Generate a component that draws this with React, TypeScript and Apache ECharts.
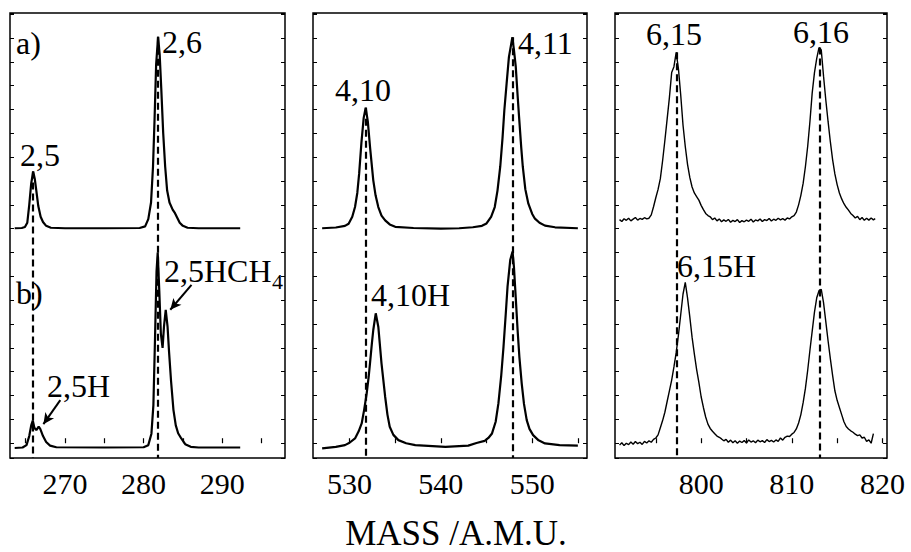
import React, { useEffect, useRef } from "react";
import * as echarts from "echarts";

const FONT = "Liberation Serif, serif";

// ---- Panel 1 (2,5 / 2,6 region) ---- [mass, relative intensity]
const p1a: [number, number][] = [
  [263.6, 0.02], [264.5, 0.03], [264.9, 0.07], [265.2, 0.25], [265.45, 1.0], [265.7, 1.9], [265.95, 2.4],
  [266.15, 2.1], [266.35, 1.6], [266.6, 0.95], [266.9, 0.5], [267.2, 0.28], [267.6, 0.12], [268.2, 0.04],
  [270, 0.02], [275, 0.02], [279.5, 0.03], [280.2, 0.1], [280.6, 0.4], [280.95, 1.1], [281.2, 2.6],
  [281.4, 4.6], [281.6, 6.9], [281.85, 8.05], [282.05, 7.3], [282.25, 5.9], [282.5, 4.0], [282.75, 2.6],
  [283.0, 1.6], [283.3, 1.1], [283.7, 0.8], [284.0, 0.65], [284.3, 0.45], [284.6, 0.25], [285.0, 0.12],
  [285.6, 0.04], [287, 0.02], [292.3, 0.02],
];
const p1b: [number, number][] = [
  [263.6, 0.0], [264.6, 0.02], [265.1, 0.12], [265.45, 0.5], [265.7, 0.95], [265.9, 1.15], [266.1, 0.85],
  [266.35, 0.75], [266.65, 0.9], [266.85, 0.8], [267.2, 0.5], [267.6, 0.25], [268.1, 0.1], [268.9, 0.03],
  [275, 0.02], [280.0, 0.03], [280.6, 0.12], [281.0, 0.6], [281.25, 1.8], [281.45, 4.5], [281.65, 7.4],
  [281.8, 8.2], [282.0, 6.6], [282.2, 4.8], [282.42, 4.2], [282.6, 5.1], [282.82, 5.8], [283.05, 5.1],
  [283.25, 4.0], [283.5, 2.8], [283.8, 1.6], [284.1, 0.95], [284.4, 0.62], [284.8, 0.4], [285.3, 0.16],
  [286, 0.05], [287, 0.02], [292.3, 0.02],
];

// ---- Panel 2 (4,10 / 4,11 region) ----
const p2a: [number, number][] = [
  [527.0, 0.02], [528.5, 0.05], [529.5, 0.12], [529.9, 0.21], [530.3, 0.5], [530.6, 0.91], [530.85, 1.5],
  [531.05, 2.3], [531.3, 3.6], [531.55, 4.65], [531.77, 5.08], [532.0, 4.5], [532.25, 3.4], [532.6, 2.03],
  [532.85, 1.4], [533.15, 0.91], [533.5, 0.55], [533.9, 0.35], [534.4, 0.18], [535, 0.08], [537, 0.03],
  [540, 0.0], [542, 0.02], [543.5, 0.06], [544.5, 0.12], [545.0, 0.22], [545.5, 0.5], [545.9, 0.91],
  [546.2, 1.6], [546.5, 2.6], [546.75, 3.8], [546.95, 4.97], [547.2, 6.1], [547.45, 7.2], [547.83, 8.03],
  [548.0, 7.5], [548.2, 6.8], [548.4, 5.6], [548.56, 4.7], [548.8, 3.4], [548.97, 2.6], [549.25, 1.65],
  [549.58, 1.05], [550.0, 0.62], [550.3, 0.42], [550.8, 0.25], [551.4, 0.13], [552.5, 0.06], [555.0, 0.02],
];
const p2b: [number, number][] = [
  [527.0, -0.02], [528.5, 0.05], [529.5, 0.12], [530.0, 0.22], [530.6, 0.4], [531.0, 0.7], [531.33, 1.03],
  [531.6, 1.6], [531.88, 2.29], [532.1, 3.0], [532.24, 3.55], [532.45, 4.4], [532.6, 4.95], [532.87, 5.65],
  [533.15, 5.09], [533.5, 3.55], [533.9, 2.15], [534.15, 1.4], [534.4, 0.89], [534.8, 0.55], [535.35, 0.33],
  [536.2, 0.2], [537.2, 0.12], [540.5, 0.05], [543.0, 0.1], [543.9, 0.21], [544.8, 0.3], [545.2, 0.42],
  [545.6, 0.61], [546.0, 1.1], [546.3, 1.87], [546.6, 3.0], [546.86, 4.25], [547.1, 5.6], [547.3, 6.77],
  [547.6, 7.9], [547.85, 8.24], [548.0, 7.6], [548.2, 6.3], [548.4, 4.95], [548.6, 3.8], [548.85, 2.71],
  [549.1, 1.85], [549.4, 1.17], [549.7, 0.8], [550.1, 0.54], [550.7, 0.32], [551.4, 0.19], [553, 0.12],
  [555, 0.1],
];

// ---- Panel 3 (6,15 / 6,16 region, noisy) ----
const p3a: [number, number][] = [
  [791.0, 0.38], [791.25, 0.30], [791.5, 0.42], [791.75, 0.35], [792.0, 0.44], [792.25, 0.33], [792.5, 0.40],
  [792.75, 0.47], [793.0, 0.36], [793.25, 0.43], [793.5, 0.39], [793.75, 0.46], [794.0, 0.41], [794.25, 0.44],
  [794.5, 0.58], [794.75, 0.92], [795.0, 1.3], [795.25, 1.65], [795.5, 2.1], [795.75, 2.85], [796.0, 3.7],
  [796.25, 4.6], [796.5, 5.5], [796.75, 6.55], [797.0, 6.8], [797.25, 7.4], [797.5, 6.7], [797.75, 5.6],
  [798.0, 4.35], [798.25, 3.45], [798.5, 2.7], [798.75, 2.15], [799.0, 1.75], [799.25, 1.5], [799.5, 1.35],
  [799.75, 1.2], [800.0, 0.98], [800.25, 0.8], [800.5, 0.64], [800.75, 0.55], [801.0, 0.5], [801.25, 0.38],
  [801.5, 0.45], [801.75, 0.33], [802.0, 0.41], [802.25, 0.29], [802.5, 0.37], [802.75, 0.31], [803.0, 0.39],
  [803.25, 0.27], [803.5, 0.35], [803.75, 0.30], [804.0, 0.38], [804.25, 0.26], [804.5, 0.34], [804.75, 0.29],
  [805.0, 0.36], [805.25, 0.31], [805.5, 0.40], [805.75, 0.28], [806.0, 0.37], [806.25, 0.33], [806.5, 0.41],
  [806.75, 0.30], [807.0, 0.38], [807.25, 0.34], [807.5, 0.43], [807.75, 0.32], [808.0, 0.40], [808.25, 0.35],
  [808.5, 0.44], [808.75, 0.37], [809.0, 0.42], [809.25, 0.36], [809.5, 0.45], [809.75, 0.41], [810.0, 0.50],
  [810.25, 0.55], [810.5, 0.7], [810.75, 1.0], [811.0, 1.4], [811.25, 1.9], [811.5, 2.6], [811.75, 3.45],
  [812.0, 4.5], [812.25, 5.7], [812.5, 6.55], [812.75, 7.15], [813.0, 7.6], [813.25, 7.5], [813.5, 6.4],
  [813.75, 5.4], [814.0, 4.5], [814.25, 3.65], [814.5, 2.9], [814.75, 2.3], [815.0, 1.85], [815.25, 1.5],
  [815.5, 1.25], [815.75, 1.05], [816.0, 0.9], [816.25, 0.78], [816.5, 0.64], [816.75, 0.55], [817.0, 0.45],
  [817.25, 0.52], [817.5, 0.38], [817.75, 0.47], [818.0, 0.35], [818.25, 0.44], [818.5, 0.36], [818.75, 0.45],
  [819.0, 0.37], [819.2, 0.42],
];
const p3b: [number, number][] = [
  [791.0, 0.12], [791.25, 0.22], [791.5, 0.10], [791.75, 0.20], [792.0, 0.14], [792.25, 0.25], [792.5, 0.16],
  [792.75, 0.27], [793.0, 0.18], [793.25, 0.24], [793.5, 0.15], [793.75, 0.28], [794.0, 0.21], [794.25, 0.30],
  [794.5, 0.24], [794.75, 0.36], [795.0, 0.42], [795.25, 0.55], [795.5, 0.85], [795.75, 1.15], [796.0, 1.5],
  [796.25, 1.95], [796.5, 2.4], [796.75, 2.85], [797.0, 3.4], [797.25, 4.0], [797.5, 4.75], [797.75, 5.6],
  [798.0, 6.45], [798.25, 6.95], [798.5, 6.3], [798.75, 5.5], [799.0, 4.65], [799.25, 3.95], [799.5, 3.3],
  [799.75, 2.75], [800.0, 2.15], [800.25, 1.7], [800.5, 1.3], [800.75, 1.0], [801.0, 0.82], [801.25, 0.7],
  [801.5, 0.6], [801.75, 0.5], [802.0, 0.45], [802.25, 0.38], [802.5, 0.30], [802.75, 0.36], [803.0, 0.24],
  [803.25, 0.33], [803.5, 0.22], [803.75, 0.30], [804.0, 0.20], [804.25, 0.29], [804.5, 0.23], [804.75, 0.31],
  [805.0, 0.21], [805.25, 0.34], [805.5, 0.25], [805.75, 0.30], [806.0, 0.22], [806.25, 0.33], [806.5, 0.26],
  [806.75, 0.31], [807.0, 0.23], [807.25, 0.35], [807.5, 0.27], [807.75, 0.32], [808.0, 0.25], [808.25, 0.34],
  [808.5, 0.28], [808.75, 0.42], [809.0, 0.33], [809.25, 0.45], [809.5, 0.50], [809.75, 0.48], [810.0, 0.58],
  [810.25, 0.65], [810.5, 0.8], [810.75, 1.05], [811.0, 1.4], [811.25, 1.9], [811.5, 2.5], [811.75, 3.25],
  [812.0, 4.1], [812.25, 4.9], [812.5, 5.7], [812.75, 6.3], [813.0, 6.6], [813.25, 6.65], [813.5, 6.1],
  [813.75, 5.3], [814.0, 4.5], [814.25, 3.75], [814.5, 3.05], [814.75, 2.4], [815.0, 2.0], [815.25, 1.7],
  [815.5, 1.4], [815.75, 1.1], [816.0, 0.9], [816.25, 0.8], [816.5, 0.72], [816.75, 0.66], [817.0, 0.58],
  [817.25, 0.52], [817.5, 0.55], [817.75, 0.42], [818.0, 0.45], [818.25, 0.28], [818.5, 0.34], [818.75, 0.2],
  [819.0, 0.6],
];

// axis ranges (mass, amu)
const xRanges: [number, number][] = [[263, 298], [526, 556], [790.5, 820.5]];
const xSplits = [7, 6, 6];
// dashed reference lines: mass positions and the top-trace peak heights they start from
const refMasses = [[265.95, 281.85], [531.8, 547.85], [797.3, 813.1]];
const refTops = [[2.4, 8.05], [5.08, 8.03], [7.4, 7.6]];
// arrows (panel 1): [from, to] in mass / axis units
const arrows1: [[number, number], [number, number]][] = [
  [[286.1, 6.64], [283.4, 5.6]],
  [[269.4, 1.81], [267.25, 0.8]],
];

const Y_MIN = -0.62;
const Y_MAX = 18.05;
const OFFSET_A = 9.0;
const OFFSET_B = -0.2;

const GRIDS = [
  { left: 10, width: 275 },
  { left: 313, width: 274 },
  { left: 615, width: 272 },
];
const GRID_TOP = 13;
const GRID_H = 445;

const LABELS = [
  { t: "a)", x: 16, y: 43 },
  { t: "2,6", x: 162, y: 42 },
  { t: "2,5", x: 20, y: 155 },
  { t: "b)", x: 16, y: 293 },
  { t: "2,5HCH", x: 164, y: 271 },
  { t: "2,5H", x: 47, y: 386 },
  { t: "4,10", x: 335, y: 90 },
  { t: "4,11", x: 518, y: 43 },
  { t: "4,10H", x: 371, y: 295 },
  { t: "6,15", x: 646, y: 34 },
  { t: "6,16", x: 793, y: 32 },
  { t: "6,15H", x: 677, y: 266 },
];

export default function App() {
  const ref = useRef<HTMLDivElement>(null);
  useEffect(() => {
    if (!ref.current) return;
    const chart = echarts.init(ref.current, undefined, { renderer: "svg" });
    const traces = [[p1a, p1b], [p2a, p2b], [p3a, p3b]];

    const grid = GRIDS.map((g) => ({
      left: g.left,
      top: GRID_TOP,
      width: g.width,
      height: GRID_H,
      show: true,
      borderColor: "#000",
      borderWidth: 1.5,
      backgroundColor: "transparent",
    }));

    const xAxis = GRIDS.map((_, i) => ({
      type: "value",
      gridIndex: i,
      min: xRanges[i][0],
      max: xRanges[i][1],
      splitNumber: xSplits[i],
      axisLine: { show: false },
      axisTick: { show: true, inside: true, length: 5, lineStyle: { color: "#000", width: 1.2 } },
      axisLabel: {
        show: true,
        color: "#000",
        fontFamily: FONT,
        fontSize: 30,
        margin: 10,
        showMinLabel: false,
        showMaxLabel: false,
        formatter: (v: number) => (Math.abs(v % 10) < 1e-6 ? String(Math.round(v)) : ""),
      },
      splitLine: { show: false },
    }));

    const yAxis: any[] = [];
    GRIDS.forEach((_, i) => {
      ["left", "right"].forEach((pos) => {
        yAxis.push({
          type: "value",
          gridIndex: i,
          position: pos,
          min: Y_MIN,
          max: Y_MAX,
          splitNumber: 18,
          axisLine: { show: false },
          axisTick: { show: true, inside: true, length: 4, lineStyle: { color: "#000", width: 1 } },
          axisLabel: { show: false },
          splitLine: { show: false },
        });
      });
    });

    const series: any[] = [];
    traces.forEach((pair, i) => {
      const lw = i === 2 ? 1.4 : 2.2;
      pair.forEach((data, k) => {
        const off = k === 0 ? OFFSET_A : OFFSET_B;
        const s: any = {
          type: "line",
          xAxisIndex: i,
          yAxisIndex: 2 * i,
          data: data.map(([x, y]) => [x, y + off]),
          showSymbol: false,
          symbol: "none",
          silent: true,
          lineStyle: { color: "#000", width: lw },
          z: 3,
        };
        if (k === 0) {
          s.markLine = {
            silent: true,
            symbol: ["none", "none"],
            label: { show: false },
            lineStyle: { color: "#000", width: 2.2, type: [7, 4] },
            data: refMasses[i].map((m, j) => [
              { coord: [m, refTops[i][j] + OFFSET_A] },
              { coord: [m, Y_MIN] },
            ]),
          };
        }
        series.push(s);
      });
    });
    // arrows in panel 1
    series.push({
      type: "line",
      xAxisIndex: 0,
      yAxisIndex: 0,
      data: [],
      silent: true,
      markLine: {
        silent: true,
        symbol: ["none", "arrow"],
        symbolSize: [8, 11],
        label: { show: false },
        lineStyle: { color: "#000", width: 2, type: "solid" },
        data: arrows1.map(([a, b]) => [{ coord: a }, { coord: b }]),
      },
    });

    const textEl = (t: string, x: number, y: number, size: number, align = "left") => ({
      type: "text",
      x,
      y,
      silent: true,
      style: {
        text: t,
        fill: "#000",
        fontSize: size,
        fontFamily: FONT,
        align,
        textAlign: align,
        verticalAlign: "middle",
        textVerticalAlign: "middle",
      },
    });

    const graphic: any[] = LABELS.map((l) => textEl(l.t, l.x, l.y, 32));
    graphic.push(textEl("4", 272, 281, 22));
    graphic.push(textEl("MASS /A.M.U.", 456, 533, 35, "center"));

    chart.setOption({
      animation: false,
      backgroundColor: "#fff",
      grid,
      xAxis,
      yAxis,
      series,
      graphic,
    });
    return () => chart.dispose();
  }, []);
  return (
    <div
      ref={ref}
      style={{ position: "absolute", left: 0, top: 0, width: 911, height: 552 }}
    />
  );
}
